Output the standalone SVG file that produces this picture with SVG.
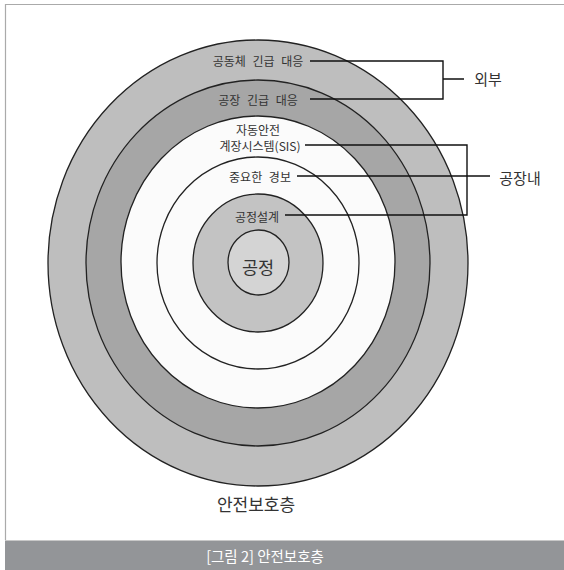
<svg xmlns="http://www.w3.org/2000/svg" width="564" height="570" viewBox="0 0 564 570">
<style>
.ring{stroke:#222;stroke-width:1.3}
.t{font-family:"Noto Sans CJK KR","Noto Sans",sans-serif;fill:#333;text-anchor:middle;dominant-baseline:central}
.s{font-size:12px}
.c{fill:none;stroke:#111;stroke-width:1.4}
</style>
<rect x="0" y="0" width="564" height="570" fill="#fff"/>
<path d="M5.5 540 V4.5 H564" fill="none" stroke="#aaa" stroke-width="1.2"/>
<g id="layer6"><ellipse class="ring" cx="258" cy="263" rx="210" ry="223" fill="#bebebe"/></g>
<g id="layer5"><ellipse class="ring" cx="258" cy="263" rx="172" ry="183" fill="#a6a6a6"/></g>
<g id="layer4"><ellipse class="ring" cx="258" cy="262" rx="137" ry="146" fill="#fbfbfb"/></g>
<g id="layer3"><ellipse class="ring" cx="258" cy="263" rx="101" ry="106" fill="#fbfbfb"/></g>
<g id="layer2"><ellipse class="ring" cx="258" cy="263" rx="65" ry="69" fill="#c3c3c3"/></g>
<g id="layer1"><ellipse class="ring" cx="258.5" cy="262.5" rx="30.5" ry="32.5" fill="#d4d4d4"/>
<text class="t" x="258" y="266" font-size="17.5">공정</text></g>
<g id="labels">
<text class="t s" x="258" y="60" word-spacing="4">공동체 긴급 대응</text>
<text class="t s" x="258" y="99" word-spacing="4">공장 긴급 대응</text>
<text class="t s" x="258" y="129">자동안전</text>
<text class="t s" x="260" y="145">계장시스템(SIS)</text>
<text class="t s" x="260" y="176" word-spacing="4">중요한 경보</text>
<text class="t s" x="257" y="216">공정설계</text>
<text class="t" x="488" y="78" font-size="15">외부</text>
<text class="t" x="520" y="177" font-size="15">공장내</text>
<text class="t" x="256" y="503" font-size="17">안전보호층</text>
</g>
<g id="connectors">
<path class="c" d="M310 61 H443 V99 H310 M443 79 H464"/>
<path class="c" d="M305 145 H467 V215 H285 M297 176 H490"/>
</g>
<g id="caption">
<rect x="5" y="540" width="559" height="30" fill="#939598"/>
<line x1="5" y1="540.5" x2="564" y2="540.5" stroke="#c8c8c8" stroke-width="1"/>
<text class="t" x="265" y="555" font-size="14.5" style="fill:#fff">[그림 2] 안전보호층</text>
</g>
</svg>
